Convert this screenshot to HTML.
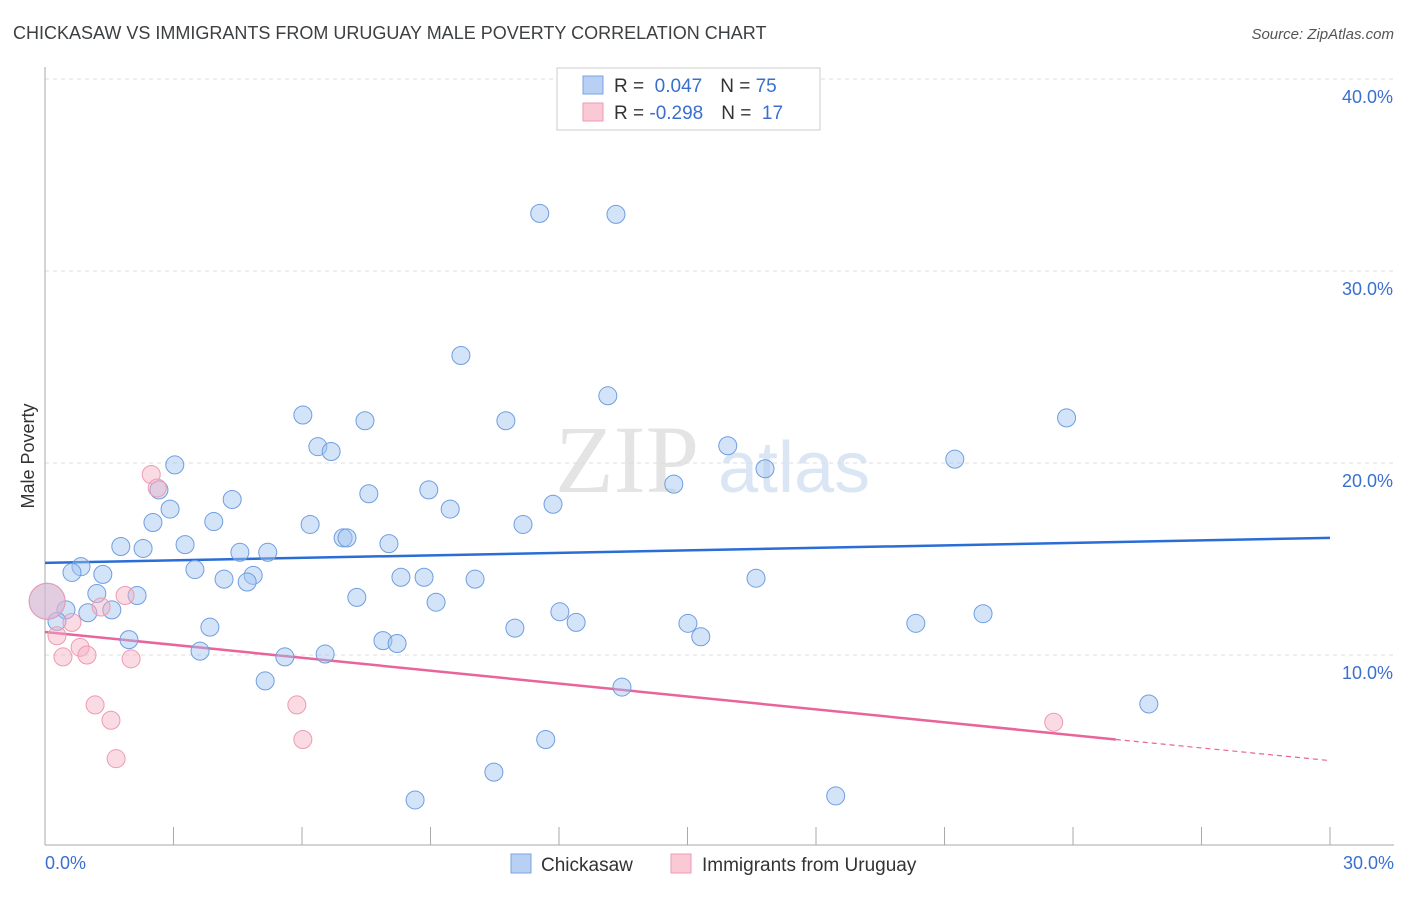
<!DOCTYPE html>
<html><head><meta charset="utf-8"><style>
body{margin:0;background:#fff;font-family:"Liberation Sans",sans-serif}
</style></head><body>
<svg id="chart" width="1406" height="892" xmlns="http://www.w3.org/2000/svg" font-family="Liberation Sans, sans-serif">
<text x="13" y="39" font-size="18" fill="#3c4043">CHICKASAW VS IMMIGRANTS FROM URUGUAY MALE POVERTY CORRELATION CHART</text>
<text x="1394" y="39" font-size="15" fill="#555" text-anchor="end" font-style="italic">Source: ZipAtlas.com</text>
<text x="555" y="492" font-size="96" fill="#e4e4e4" font-family="Liberation Serif, serif">ZIP</text>
<text x="718" y="492" font-size="72" fill="#dbe6f5">atlas</text>
<g id="grid"></g>
<g id="axes"></g>
<g id="trend"></g>
<g id="pts"></g>
<text transform="translate(34,456) rotate(-90)" font-size="18" fill="#333" text-anchor="middle">Male Poverty</text>
<text x="45" y="869" font-size="18" fill="#3a6fd0">0.0%</text>
<text x="1394" y="869" font-size="18" fill="#3a6fd0" text-anchor="end">30.0%</text>
<g>
<rect x="557" y="68" width="263" height="62" fill="#fff" stroke="#ccc"/>
<rect x="583" y="76" width="20" height="18" fill="#b8d0f3" stroke="#7aa3e0"/>
<rect x="583" y="103" width="20" height="18" fill="#f9c9d6" stroke="#ee9ab2"/>
<text x="614" y="92" font-size="19" fill="#333">R = <tspan fill="#3a6fd0">&#160;0.047</tspan><tspan dx="18">N = </tspan><tspan fill="#3a6fd0">75</tspan></text>
<text x="614" y="119" font-size="19" fill="#333">R = <tspan fill="#3a6fd0">-0.298</tspan><tspan dx="18">N = </tspan><tspan fill="#3a6fd0">&#160;17</tspan></text>
</g>
<g>
<rect x="511" y="854" width="20" height="19" fill="#b8d0f3" stroke="#7aa3e0"/>
<text x="541" y="871" font-size="19" fill="#333">Chickasaw</text>
<rect x="671" y="854" width="20" height="19" fill="#f9c9d6" stroke="#ee9ab2"/>
<text x="702" y="871" font-size="19" fill="#333">Immigrants from Uruguay</text>
</g>
</svg>
<script>
const yTicks=[10,20,30,40];
const yTickLabels=["10.0%","20.0%","30.0%","40.0%"];
const xTicks=[0,3,6,9,12,15,18,21,24,27,30];
const blueX=[11.55,13.33,9.71,13.14,6.02,7.47,10.76,23.85,15.94,6.37,6.68,21.24,3.03,16.81,14.68,2.66,7.56,8.96,4.37,2.92,9.46,11.86,2.52,3.94,6.19,11.16,6.96,7.05,8.03,1.77,2.29,3.27,4.55,5.2,0.84,0.63,1.35,3.5,4.86,4.18,4.72,8.31,8.85,10.04,16.6,1.21,2.15,7.28,9.13,0.49,1.0,1.56,12.02,12.4,21.9,15.01,20.33,0.28,3.85,10.97,1.96,7.89,8.22,15.31,3.62,5.6,6.54,5.14,13.47,25.77,11.69,10.48,8.64,18.46,0.05];
const blueY=[33.0,32.95,25.6,23.5,22.5,22.2,22.2,22.35,20.9,20.85,20.6,20.2,19.9,19.7,18.9,18.6,18.4,18.6,18.1,17.6,17.6,17.85,16.9,16.95,16.8,16.8,16.1,16.1,15.8,15.65,15.55,15.75,15.35,15.35,14.6,14.3,14.2,14.45,14.15,13.95,13.8,14.05,14.05,13.95,14.0,13.2,13.1,13.0,12.75,12.35,12.2,12.35,12.25,11.7,12.15,11.65,11.65,11.75,11.45,11.4,10.8,10.75,10.6,10.95,10.2,9.9,10.05,8.65,8.33,7.45,5.6,3.9,2.45,2.66,12.8];
const pinkX=[2.48,2.62,1.87,1.31,0.63,0.28,0.82,0.42,0.98,2.01,1.17,1.54,5.88,6.02,1.66,23.55,0.05];
const pinkY=[19.4,18.7,13.1,12.5,11.7,11.0,10.4,9.9,10.0,9.8,7.4,6.6,7.4,5.6,4.6,6.5,12.8];
const blueTrend=[[0,14.8],[30,16.1]];
const pinkTrend=[[0,11.2],[25,5.6],[30,4.5]];
const sx=v=>45+v/30*1285, sy=v=>847-v*19.2;
const NS="http://www.w3.org/2000/svg";
function mk(t,a,p){const e=document.createElementNS(NS,t);for(const k in a)e.setAttribute(k,a[k]);p.appendChild(e);return e;}
const grid=document.getElementById('grid'),axes=document.getElementById('axes'),tr=document.getElementById('trend'),pts=document.getElementById('pts');
yTicks.forEach((v,i)=>{
 const l=mk('line',{x1:45,x2:1394,y1:sy(v),y2:sy(v),stroke:'#ddd','stroke-dasharray':'4,4'},grid);
 
 
 const t=mk('text',{x:1393,y:sy(v)+24,'font-size':18,fill:'#3a6fd0','text-anchor':'end'},grid);
 t.textContent=yTickLabels[i];
 
 
});
let ax=mk('line',{x1:45,x2:45,y1:67,y2:845,stroke:'#aaa'},axes);


ax=mk('line',{x1:45,x2:1394,y1:845,y2:845,stroke:'#aaa'},axes);


xTicks.forEach(v=>{
 const l=mk('line',{x1:sx(v),x2:sx(v),y1:827,y2:845,stroke:'#aaa'},axes);
 
 
});
let bl=mk('line',{x1:sx(blueTrend[0][0]),y1:sy(blueTrend[0][1]),x2:sx(blueTrend[1][0]),y2:sy(blueTrend[1][1]),stroke:'#2a6dd6','stroke-width':2.5},tr);


let pl=mk('line',{x1:sx(pinkTrend[0][0]),y1:sy(pinkTrend[0][1]),x2:sx(pinkTrend[1][0]),y2:sy(pinkTrend[1][1]),stroke:'#e8649a','stroke-width':2.5},tr);


let pd=mk('line',{x1:sx(pinkTrend[1][0]),y1:sy(pinkTrend[1][1]),x2:sx(pinkTrend[2][0]),y2:sy(pinkTrend[2][1]),stroke:'#e8649a','stroke-width':1.2,'stroke-dasharray':'5,4'},tr);


blueX.forEach((x,i)=>{
 const big=i===blueX.length-1;
 const c=mk('circle',{cx:sx(x),cy:sy(blueY[i]),r:big?18:9,fill:'rgba(160,195,240,0.45)',stroke:'#6f9ee0','stroke-width':1},pts);
 
 
});
pinkX.forEach((x,i)=>{
 const big=i===pinkX.length-1;
 const c=mk('circle',{cx:sx(x),cy:sy(pinkY[i]),r:big?18:9,fill:'rgba(245,175,195,0.45)',stroke:'#ee9ab2','stroke-width':1},pts);
 
 
});
</script>
</body></html>
